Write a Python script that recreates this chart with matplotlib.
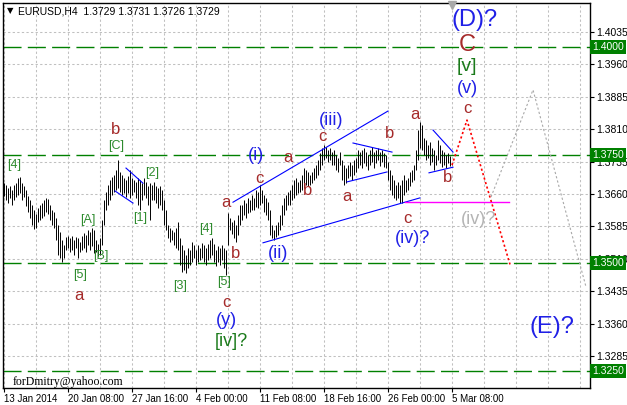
"""
EURUSD H4 Elliott-wave count (MetaTrader style chart), early March 2014.
Bars are drawn as high-low sticks, one bar every 2 px like the MT4 screen.
"""

import matplotlib
matplotlib.use("Agg")
import matplotlib.pyplot as plt

W, H = 627, 405

# ---- data --------------------------------------------------------------------
highs = [
    1.3685, 1.3681, 1.3674, 1.3678, 1.3669, 1.3681, 1.3685, 1.3697, 1.3699, 1.3685,
    1.3678, 1.3669, 1.3655, 1.3646, 1.3634, 1.3623, 1.3613, 1.3627, 1.3634, 1.3639,
    1.3646, 1.3650, 1.3648, 1.3634, 1.3623, 1.3618, 1.3604, 1.3588, 1.3572, 1.3553,
    1.3542, 1.3560, 1.3562, 1.3558, 1.3562, 1.3553, 1.3560, 1.3558, 1.3549, 1.3562,
    1.3569, 1.3565, 1.3576, 1.3572, 1.3581, 1.3576, 1.3553, 1.3544, 1.3558, 1.3600,
    1.3646, 1.3664, 1.3681, 1.3692, 1.3699, 1.3704, 1.3715, 1.3738, 1.3711, 1.3704,
    1.3697, 1.3692, 1.3701, 1.3715, 1.3697, 1.3692, 1.3687, 1.3697, 1.3692, 1.3685,
    1.3697, 1.3687, 1.3678, 1.3685, 1.3681, 1.3687, 1.3678, 1.3674, 1.3678, 1.3669,
    1.3646, 1.3623, 1.3588, 1.3581, 1.3576, 1.3572, 1.3581, 1.3595, 1.3558, 1.3542,
    1.3530, 1.3519, 1.3535, 1.3530, 1.3549, 1.3542, 1.3530, 1.3542, 1.3535, 1.3546,
    1.3542, 1.3535, 1.3544, 1.3553, 1.3558, 1.3544, 1.3530, 1.3539, 1.3535, 1.3542,
    1.3535, 1.3530, 1.3616, 1.3604, 1.3595, 1.3600, 1.3588, 1.3611, 1.3634, 1.3634,
    1.3646, 1.3639, 1.3650, 1.3646, 1.3657, 1.3650, 1.3669, 1.3664, 1.3681, 1.3669,
    1.3657, 1.3650, 1.3641, 1.3623, 1.3588, 1.3576, 1.3588, 1.3595, 1.3611, 1.3634,
    1.3650, 1.3657, 1.3664, 1.3669, 1.3681, 1.3692, 1.3697, 1.3687, 1.3692, 1.3704,
    1.3720, 1.3715, 1.3711, 1.3704, 1.3711, 1.3720, 1.3727, 1.3738, 1.3755, 1.3766,
    1.3773, 1.3769, 1.3762, 1.3766, 1.3757, 1.3762, 1.3750, 1.3743, 1.3757, 1.3738,
    1.3727, 1.3720, 1.3727, 1.3734, 1.3727, 1.3738, 1.3743, 1.3762, 1.3757, 1.3762,
    1.3766, 1.3757, 1.3750, 1.3762, 1.3769, 1.3757, 1.3762, 1.3766, 1.3757, 1.3762,
    1.3755, 1.3750, 1.3734, 1.3715, 1.3704, 1.3692, 1.3681, 1.3687, 1.3681, 1.3692,
    1.3704, 1.3692, 1.3697, 1.3711, 1.3715, 1.3727, 1.3762, 1.3808, 1.3826, 1.3819,
    1.3789, 1.3785, 1.3773, 1.3780, 1.3766, 1.3762, 1.3750, 1.3785, 1.3773, 1.3762,
    1.3757, 1.3750, 1.3755, 1.3748, 1.3731,
]
lows = [
    1.3655, 1.3646, 1.3639, 1.3650, 1.3634, 1.3646, 1.3653, 1.3657, 1.3662, 1.3646,
    1.3653, 1.3632, 1.3618, 1.3604, 1.3588, 1.3579, 1.3581, 1.3595, 1.3600, 1.3604,
    1.3609, 1.3618, 1.3613, 1.3600, 1.3588, 1.3581, 1.3553, 1.3519, 1.3512, 1.3502,
    1.3512, 1.3530, 1.3535, 1.3525, 1.3530, 1.3519, 1.3535, 1.3512, 1.3525, 1.3530,
    1.3535, 1.3525, 1.3542, 1.3530, 1.3539, 1.3523, 1.3525, 1.3516, 1.3519, 1.3542,
    1.3588, 1.3623, 1.3634, 1.3646, 1.3657, 1.3664, 1.3669, 1.3674, 1.3664, 1.3657,
    1.3662, 1.3653, 1.3662, 1.3650, 1.3657, 1.3664, 1.3650, 1.3634, 1.3623, 1.3646,
    1.3657, 1.3650, 1.3634, 1.3600, 1.3646, 1.3646, 1.3639, 1.3627, 1.3634, 1.3623,
    1.3588, 1.3576, 1.3558, 1.3549, 1.3553, 1.3542, 1.3535, 1.3530, 1.3495, 1.3479,
    1.3484, 1.3477, 1.3488, 1.3495, 1.3502, 1.3512, 1.3495, 1.3502, 1.3507, 1.3512,
    1.3502, 1.3495, 1.3507, 1.3512, 1.3519, 1.3502, 1.3493, 1.3502, 1.3495, 1.3507,
    1.3488, 1.3472, 1.3542, 1.3576, 1.3567, 1.3558, 1.3549, 1.3565, 1.3588, 1.3600,
    1.3611, 1.3604, 1.3616, 1.3618, 1.3623, 1.3623, 1.3630, 1.3627, 1.3634, 1.3639,
    1.3618, 1.3611, 1.3600, 1.3565, 1.3558, 1.3553, 1.3560, 1.3565, 1.3576, 1.3588,
    1.3611, 1.3623, 1.3634, 1.3634, 1.3646, 1.3650, 1.3657, 1.3662, 1.3664, 1.3669,
    1.3674, 1.3681, 1.3678, 1.3681, 1.3685, 1.3692, 1.3697, 1.3704, 1.3715, 1.3727,
    1.3738, 1.3743, 1.3734, 1.3738, 1.3727, 1.3727, 1.3715, 1.3711, 1.3727, 1.3692,
    1.3681, 1.3685, 1.3697, 1.3701, 1.3692, 1.3704, 1.3711, 1.3720, 1.3727, 1.3720,
    1.3731, 1.3725, 1.3715, 1.3727, 1.3734, 1.3720, 1.3731, 1.3738, 1.3725, 1.3734,
    1.3722, 1.3720, 1.3692, 1.3669, 1.3657, 1.3650, 1.3646, 1.3650, 1.3639, 1.3639,
    1.3657, 1.3664, 1.3669, 1.3678, 1.3687, 1.3692, 1.3715, 1.3738, 1.3766, 1.3762,
    1.3750, 1.3738, 1.3743, 1.3727, 1.3734, 1.3715, 1.3727, 1.3738, 1.3731, 1.3722,
    1.3727, 1.3720, 1.3731, 1.3725, 1.3726,
]

date_labels = ["13 Jan 2014", "20 Jan 08:00", "27 Jan 16:00", "4 Feb 00:00",
               "11 Feb 08:00", "18 Feb 16:00", "26 Feb 00:00", "5 Mar 08:00"]
date_bars = [0, 32, 64, 96, 128, 160, 192, 224]

price_ticks = [1.4035, 1.3960, 1.3885, 1.3810, 1.3735, 1.3660,
               1.3585, 1.3510, 1.3435, 1.3360, 1.3285]
levels = [1.4000, 1.3750, 1.3500, 1.3250]  # green horizontal lines

# trend lines: (bar0, price0, bar1, price1)
trendlines = [
    (114.5, 1.3641, 192.0, 1.3852),
    (129.5, 1.3547, 208.0, 1.3651),
    (174.5, 1.3778, 194.0, 1.3757),
    (171.5, 1.3688, 191.5, 1.3711),
    (214.5, 1.3808, 224.5, 1.3757),
    (212.5, 1.3709, 224.5, 1.3722),
    (61.0, 1.3720, 69.5, 1.3685),
    (55.5, 1.3667, 64.5, 1.3639),
]

forecast_bars = [224, 231.5, 253]
forecast_prices = [1.3727, 1.3831, 1.3497]
alt_bars = [243.5, 264.5, 291]
alt_prices = [1.3653, 1.3901, 1.3445]
support_bars = [200.5, 252.5]
support_price = 1.3641

RED, GREEN, BLUE, GREY = "#a52a2a", "#2e8b2e", "#2020e6", "#b4b4b4"
DKGREEN = "#1a7a1a"

# wave labels: (text, bar, price, colour, fontsize)
wave_labels = [
    ("[4]", 5, 1.3727, GREEN, 9), ("[A]", 42, 1.3600, GREEN, 9),
    ("[B]", 48.5, 1.3516, GREEN, 9), ("[5]", 38, 1.3472, GREEN, 9),
    ("a", 37.5, 1.3424, RED, 12), ("b", 56, 1.3810, RED, 12),
    ("[C]", 56, 1.3771, GREEN, 9), ("[2]", 74, 1.3708, GREEN, 9),
    ("[1]", 68, 1.3604, GREEN, 9), ("[3]", 88, 1.3447, GREEN, 9),
    ("[4]", 101, 1.3579, GREEN, 9), ("[5]", 110, 1.3456, GREEN, 9),
    ("a", 111, 1.3641, RED, 12), ("b", 116, 1.3523, RED, 12),
    ("c", 111, 1.3408, RED, 12), ("(y)", 111, 1.3368, BLUE, 13),
    ("[iv]?", 113.5, 1.3318, DKGREEN, 13),
    ("c", 127.5, 1.3697, RED, 12), ("(i)", 126, 1.3748, BLUE, 13),
    ("a", 142, 1.3745, RED, 12), ("(ii)", 137, 1.3523, BLUE, 13),
    ("b", 152, 1.3669, RED, 12), ("c", 159, 1.3794, RED, 12),
    ("(iii)", 163.5, 1.3831, BLUE, 13), ("a", 171.5, 1.3655, RED, 12),
    ("b", 193, 1.3801, RED, 12), ("c", 201.5, 1.3604, RED, 12),
    ("(iv)?", 204.5, 1.3558, BLUE, 13), ("a", 205.5, 1.3845, RED, 12),
    ("b", 222, 1.3699, RED, 12), ("c", 231.5, 1.3859, RED, 12),
    ("(v)", 231.5, 1.3905, BLUE, 13), ("[v]", 231.5, 1.3956, DKGREEN, 14),
    ("C", 231.5, 1.4005, RED, 17), ("(D)?", 235.5, 1.4063, BLUE, 17),
    ("(iv)?", 237.5, 1.3600, GREY, 13), ("(E)?", 274, 1.3352, BLUE, 17),
]

# ---- figure ------------------------------------------------------------------
plt.rcParams["font.family"] = ["Liberation Sans", "DejaVu Sans"]

fig = plt.figure(figsize=(W / 100, H / 100), dpi=100)
ax = fig.add_axes([3 / W, 1 - 388 / H, 587 / W, 385 / H])
ax.set_xlim(-0.5, 293)
ax.set_ylim(1.32109, 1.41021)

grid_kw = dict(color="#c0c0c0", lw=0.75, ls=(0, (2.2, 2.2)), zorder=0)
for p in price_ticks:
    ax.axhline(p, **grid_kw)
for b in range(0, 293, 16):
    ax.axvline(b, **grid_kw)
for p in levels:
    ax.axhline(p, color="#008000", lw=1.0, ls=(0, (13, 4.5)), zorder=1)

ax.vlines(range(len(highs)), lows, highs, color="black", lw=0.7, zorder=3)

for b0, p0, b1, p1 in trendlines:
    ax.plot([b0, b1], [p0, p1], color="#0000ff", lw=0.8, zorder=4)
ax.plot(support_bars, [support_price] * 2, color="#ff00ff", lw=1.0, zorder=4)
ax.plot(forecast_bars, forecast_prices, color="#ff0000", lw=1.2,
        ls=(0, (1.3, 1.5)), zorder=4)
ax.plot(alt_bars, alt_prices, color="#a8a8a8", lw=0.8, ls=(0, (2, 2)), zorder=4)

for text, b, p, col, fs in wave_labels:
    ax.text(b, p, text, color=col, fontsize=fs, ha="center", va="center", zorder=5)

# axes cosmetics, MT4 style
for s in ax.spines.values():
    s.set_color("black")
    s.set_linewidth(1.0)
ax.yaxis.tick_right()
ax.set_yticks(price_ticks)
ax.set_yticklabels([f"{p:.4f}" for p in price_ticks])
ax.tick_params(axis="y", direction="out", length=3, pad=1.5, labelsize=7.5)
ax.set_xticks(date_bars)
ax.set_xticklabels(date_labels, ha="left")
ax.tick_params(axis="x", direction="out", length=3, pad=1.5, labelsize=7)

# price-level boxes sit on top of the ordinary tick labels, as on the MT4 axis
for p in levels:
    ax.text(1.004, p, f"{p:.4f}", transform=ax.get_yaxis_transform(),
            ha="left", va="center", color="white", fontsize=7.5, clip_on=False,
            bbox=dict(boxstyle="square,pad=0.2", fc="#008000", ec="none"), zorder=6)

ax.plot(224, 1.4097, marker="v", color="#a8a8a8", ms=6, clip_on=False, zorder=6)

fig.text(7 / W, 1 - 11 / H, "\u25bc", fontsize=6, va="center", family="DejaVu Sans")
fig.text(18 / W, 1 - 11 / H, "EURUSD,H4  1.3729 1.3731 1.3726 1.3729",
         fontsize=7.5, va="center")
fig.text(13 / W, 1 - 382 / H, "forDmitry@yahoo.com", fontsize=8.5,
         va="center", family="Liberation Serif")

fig.savefig("out.png", dpi=100)
